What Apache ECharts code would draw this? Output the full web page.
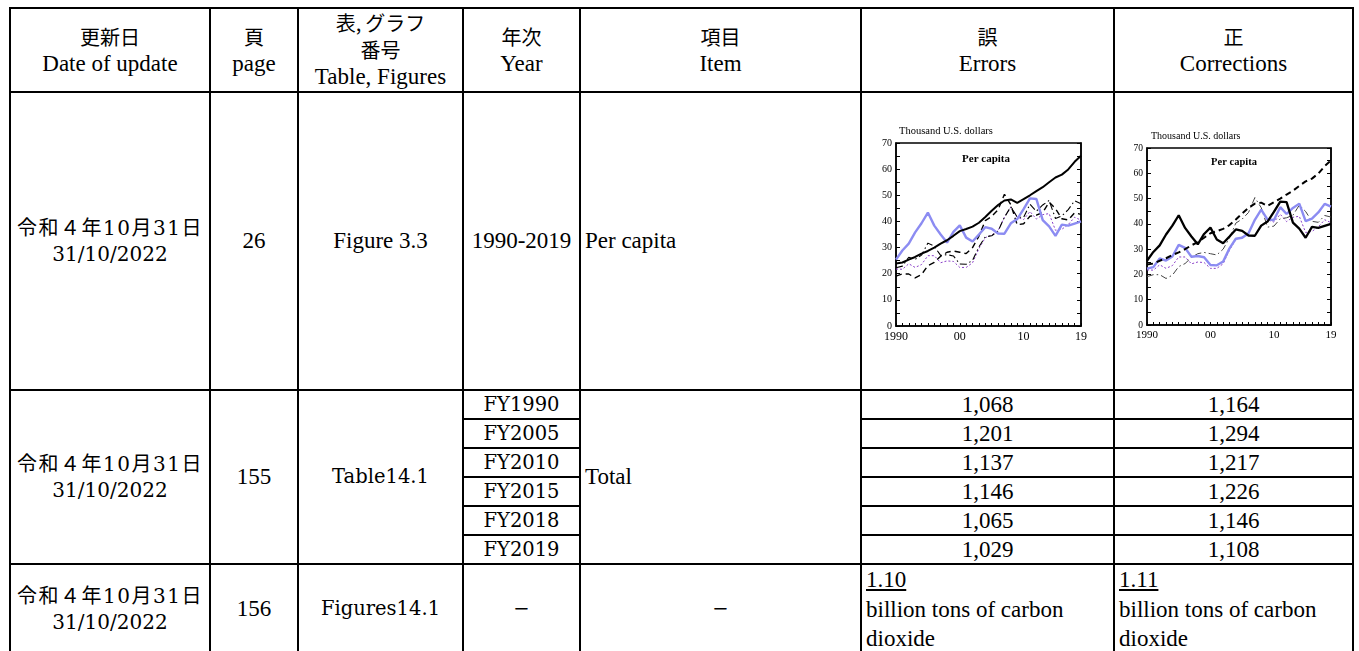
<!DOCTYPE html>
<html>
<head>
<meta charset="utf-8">
<script src="https://cdn.jsdelivr.net/npm/echarts@6/dist/echarts.min.js"></script>
<style>
html,body{margin:0;padding:0;background:#fff;width:1359px;height:651px;overflow:hidden;}
#tbl{position:absolute;left:9px;top:7px;border-collapse:collapse;table-layout:fixed;}
#tbl td{border:2px solid #000;padding:0;text-align:center;vertical-align:middle;
  font-family:"Liberation Serif","Noto Sans CJK JP",serif;font-size:23px;line-height:26px;color:#000;overflow:hidden;white-space:nowrap;}
#tbl td.m{font-family:"DejaVu Serif","Noto Sans CJK JP",serif;font-size:19.5px;font-weight:normal;}
#tbl td.jp{font-family:"DejaVu Serif","Noto Sans CJK JP",serif;font-size:20px;}
#tbl td.jp .w{letter-spacing:1.5px;}
#tbl td.l{text-align:left;padding-left:4px;}
#tbl td.top{vertical-align:top;white-space:normal;line-height:29.5px;text-align:left;padding-left:4px;}
.jph{font-family:"Noto Sans CJK JP",serif;font-size:20px;line-height:26px;}
#chart{position:absolute;left:0;top:0;width:1359px;height:651px;pointer-events:none;z-index:2;}
</style>
</head>
<body>
<table id="tbl">
<colgroup>
<col style="width:200px"><col style="width:88px"><col style="width:165px"><col style="width:117px">
<col style="width:281px"><col style="width:253px"><col style="width:239px">
</colgroup>
<tbody id="tb">
<tr style="height:84px">
<td><span class="jph">更新日</span><br>Date of update</td>
<td><span class="jph">頁</span><br>page</td>
<td style="line-height:26px"><span class="jph">表,&thinsp;グラフ<br>番号</span><br>Table, Figures</td>
<td><span class="jph">年次</span><br>Year</td>
<td><span class="jph">項目</span><br>Item</td>
<td><span class="jph">誤</span><br>Errors</td>
<td><span class="jph">正</span><br>Corrections</td>
</tr>
<tr style="height:298px">
<td class="jp"><span class="w">令和４年10月31日</span><br>31/10/2022</td>
<td>26</td>
<td>Figure 3.3</td>
<td>1990-2019</td>
<td class="l">Per capita</td>
<td></td>
<td></td>
</tr>
</tbody>
</table>
<div id="chart"></div>
<script>
// ---- table values ----
const fyYears = ['FY1990','FY2005','FY2010','FY2015','FY2018','FY2019'];
const errorsTotal = ['1,068','1,201','1,137','1,146','1,065','1,029'];
const correctionsTotal = ['1,164','1,294','1,217','1,226','1,146','1,108'];

// ---- chart values (thousand U.S. dollars per capita) ----
const years = [1990,1991,1992,1993,1994,1995,1996,1997,1998,1999,2000,2001,2002,2003,2004,2005,2006,2007,2008,2009,2010,2011,2012,2013,2014,2015,2016,2017,2018,2019];
const usValues = [23.9,24.3,25.4,26.4,27.7,28.7,30.0,31.5,32.8,34.5,36.3,37.1,38.0,39.5,41.7,44.1,46.3,48.0,48.4,47.1,48.5,50.0,51.6,53.1,55.0,56.8,57.9,59.9,62.8,65.1];
const japanValues = [25.4,28.9,31.5,35.8,39.3,43.4,38.4,35.0,31.9,36.0,38.5,33.8,32.3,35.0,37.8,37.2,35.4,35.3,39.3,40.9,44.7,48.8,48.6,40.5,38.1,34.5,38.8,38.4,39.2,40.0];
const germanyValues = [22.3,22.9,26.3,25.5,27.1,31.7,30.5,27.0,27.3,26.8,23.7,23.6,25.1,30.3,34.1,34.5,36.3,41.6,45.6,41.7,41.5,46.6,43.9,46.3,48.0,41.1,42.1,44.5,47.9,46.8];
const ukValues = [19.1,19.9,19.9,18.4,19.7,23.1,24.3,26.7,28.2,28.7,28.2,27.7,30.0,34.4,40.3,41.9,44.5,50.4,46.4,38.7,39.1,42.0,42.4,43.4,47.4,44.9,41.0,40.6,43.3,42.7];
const franceValues = [21.8,21.7,23.8,22.4,23.5,26.9,26.9,24.2,24.9,24.7,22.4,22.4,24.2,29.6,33.8,34.8,36.5,41.6,45.5,41.6,40.7,43.8,40.9,42.6,43.0,36.6,37.0,38.8,41.6,40.5];
const xLabelYears = [1990,2000,2010,2019];
const xLabelTexts = ['1990','00','10','19'];

// build table rows
const tb = document.getElementById('tb');
fyYears.forEach((fy,i)=>{
  const tr = document.createElement('tr');
  tr.style.height = '29px';
  let html = '';
  if(i===0){
    html += '<td class="jp" rowspan="6"><span class="w">令和４年10月31日</span><br>31/10/2022</td>';
    html += '<td rowspan="6">155</td>';
    html += '<td class="m" rowspan="6">Table14.1</td>';
  }
  html += '<td class="m" style="line-height:25px">'+fy+'</td>';
  if(i===0) html += '<td class="l" rowspan="6">Total</td>';
  html += '<td style="line-height:25px">'+errorsTotal[i]+'</td><td style="line-height:25px">'+correctionsTotal[i]+'</td>';
  tr.innerHTML = html;
  tb.appendChild(tr);
});
const last = document.createElement('tr');
last.style.height = '86px';
last.innerHTML = '<td class="jp"><span class="w">令和４年10月31日</span><br>31/10/2022</td><td>156</td><td class="m">Figures14.1</td>'+
  '<td class="m">−</td><td class="m">−</td>'+
  '<td class="top"><u>1.10</u><br>billion tons of carbon<br>dioxide</td>'+
  '<td class="top"><u>1.11</u><br>billion tons of carbon<br>dioxide</td>';
tb.appendChild(last);

// ---- charts ----
const chart = echarts.init(document.getElementById('chart'), null, {renderer:'canvas'});
const pairs = vals => years.map((y,i)=>[y,vals[i]]);
const F = '"Liberation Serif", serif';
function xAxisFor(gi, fs){
  return {type:'value', gridIndex:gi, min:1990, max:2019, interval:1,
    axisLine:{show:true,lineStyle:{color:'#000',width:1.5}},
    axisTick:{show:true,inside:true,length:3,lineStyle:{color:'#000',width:1}},
    splitLine:{show:false},
    axisLabel:{show:true,margin:5,color:'#000',fontFamily:F,fontSize:fs,
      formatter:v=>{const k=xLabelYears.indexOf(v);return k>=0?xLabelTexts[k]:'';}}};
}
function yAxesFor(gi, fs){
  return [{type:'value', gridIndex:gi, min:0, max:70, interval:10,
    axisLine:{show:true,lineStyle:{color:'#000',width:1.5}},
    axisTick:{show:true,inside:true,length:4,lineStyle:{color:'#000',width:1}},
    minorTick:{show:true,splitNumber:2,length:4,lineStyle:{color:'#000',width:1}},
    splitLine:{show:false},
    axisLabel:{show:true,margin:4,color:'#000',fontFamily:F,fontSize:fs}},
   {type:'value', gridIndex:gi, position:'right', min:0, max:70, interval:5,
    axisLine:{show:true,lineStyle:{color:'#000',width:1.5}},
    axisTick:{show:true,inside:true,length:4,lineStyle:{color:'#000',width:1}},
    splitLine:{show:false}, axisLabel:{show:false}}];
}
function line(name, gi, vals, color, width, type, z){
  return {name, type:'line', xAxisIndex:gi, yAxisIndex:gi*2, data:pairs(vals), symbol:'none',
    silent:true, animation:false, z:z, lineStyle:{color, width, type}};
}
const dashDot = [7,3,1.5,3];
chart.setOption({
  animation:false,
  grid:[
    {left:896, top:143, width:185, height:183, show:true, borderColor:'#000', borderWidth:1.5, backgroundColor:'transparent'},
    {left:1147, top:148, width:184, height:177, show:true, borderColor:'#000', borderWidth:1.5, backgroundColor:'transparent'}
  ],
  xAxis:[xAxisFor(0,12), xAxisFor(1,11)],
  yAxis:[...yAxesFor(0,10), ...yAxesFor(1,9.5)],
  graphic:[
    {type:'text', x:899, y:131, style:{text:'Thousand U.S. dollars', font:'10.5px "Liberation Serif"', fill:'#000', textVerticalAlign:'middle'}},
    {type:'text', x:986, y:159, style:{text:'Per capita', font:'bold 11px "Liberation Serif"', fill:'#000', textAlign:'center', textVerticalAlign:'middle'}},
    {type:'text', x:1151, y:136, style:{text:'Thousand U.S. dollars', font:'10px "Liberation Serif"', fill:'#000', textVerticalAlign:'middle'}},
    {type:'text', x:1234, y:162, style:{text:'Per capita', font:'bold 10.5px "Liberation Serif"', fill:'#000', textAlign:'center', textVerticalAlign:'middle'}}
  ],
  series:[
    // Errors chart
    line('France',0,franceValues,'#8a3fc8',1,[2,2],1),
    line('United Kingdom',0,ukValues,'#000',1.4,[6,4],2),
    line('Germany',0,germanyValues,'#000',1.1,dashDot,3),
    line('Japan',0,japanValues,'#8c8cf2',2.4,'solid',4),
    line('United States',0,usValues,'#000',2,'solid',5),
    // Corrections chart
    line('France',1,franceValues,'#8a3fc8',1,[2,2],1),
    line('United Kingdom',1,ukValues,'#444',1,dashDot,2),
    line('Germany',1,germanyValues,'#8c8cf2',2.4,'solid',3),
    line('United States',1,usValues,'#000',2,[6,4],4),
    line('Japan',1,japanValues,'#000',2.3,'solid',5)
  ]
});
</script>
</body>
</html>
